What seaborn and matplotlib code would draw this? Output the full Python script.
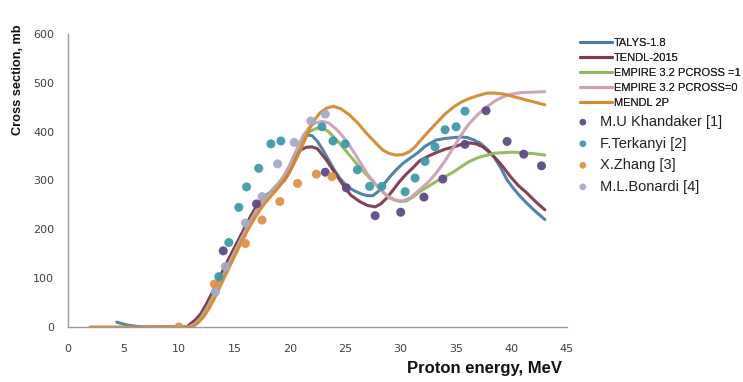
import matplotlib
matplotlib.use("Agg")
import matplotlib.pyplot as plt
import seaborn as sns
import pandas as pd

# ---------------- data ----------------
talys_e = [4.4, 5.0, 5.6, 6.3, 7.0, 10.8, 11.5, 12.0, 12.5, 13.0, 13.5, 14.0, 14.5, 15.0, 15.5, 16.0, 16.5,
           17.0, 17.5, 18.0, 18.5, 19.0, 19.5, 20.0, 20.5, 21.0, 21.5, 22.0, 22.5, 23.0, 23.5, 24.0, 24.5,
           25.0, 25.5, 26.0, 26.5, 27.0, 27.5, 28.0, 28.5, 29.0, 29.6, 30.2, 30.8, 31.5, 32.2, 33.2, 34.0,
           34.8, 35.5, 36.0, 36.6, 37.2, 37.8, 38.4, 39.0, 39.6, 40.2, 40.8, 41.4, 42.0, 42.5, 43.0]
talys_s = [10, 6, 3, 1, 0, 0, 12, 25, 45, 68, 90, 115, 138, 160, 182, 205, 228,
           248, 262, 272, 280, 290, 302, 322, 350, 380, 393, 392, 380, 362, 342, 322, 305,
           292, 283, 277, 272, 269, 269, 278, 293, 307, 322, 335, 345, 356, 370, 383, 386,
           388, 389, 388, 383, 376, 364, 349, 327, 301, 283, 267, 253, 240, 230, 220]

tendl_e = [8.0, 10.7, 11.5, 12.0, 12.5, 13.0, 13.5, 14.0, 14.5, 15.0, 15.5, 16.0, 16.5, 17.0, 17.5, 18.0,
           18.5, 19.0, 19.5, 20.0, 20.5, 21.0, 21.5, 22.0, 22.5, 23.3, 24.0, 24.8, 25.5, 26.3, 27.0, 27.7,
           28.2, 28.7, 29.3, 29.9, 30.5, 31.1, 31.7, 32.5, 33.2, 34.0, 34.8, 35.5, 36.2, 36.8, 37.4, 38.0,
           38.7, 39.3, 39.9, 40.6, 41.4, 42.2, 43.0]
tendl_s = [0, 0, 15, 28, 48, 70, 93, 117, 140, 162, 184, 206, 227, 246, 260, 270,
           280, 290, 300, 318, 350, 363, 368, 369, 365, 342, 318, 291, 270, 257, 249, 246,
           252, 263, 280, 298, 313, 326, 340, 350, 357, 364, 369, 374, 377, 375, 369, 358,
           342, 326, 308, 290, 274, 256, 240]

emp1_e = [8.0, 10.9, 11.5, 12.0, 12.5, 13.0, 13.5, 14.0, 14.5, 15.0, 15.5, 16.0, 16.5, 17.0, 17.5, 18.0,
          18.5, 19.0, 19.5, 20.0, 20.6, 21.2, 21.7, 22.3, 22.9, 23.5, 24.0, 24.5, 25.2, 26.0, 26.8, 27.5,
          28.1, 28.7, 29.3, 29.9, 30.5, 31.1, 31.7, 32.5, 33.2, 34.0, 34.8, 35.5, 36.2, 37.0, 37.8, 38.5,
          39.3, 40.0, 40.8, 42.0, 43.0]
emp1_s = [0, 0, 8, 20, 38, 60, 83, 107, 130, 153, 176, 198, 220, 240, 257, 270,
          283, 295, 310, 330, 360, 386, 399, 406, 408, 400, 388, 376, 357, 335, 315, 298,
          283, 270, 262, 257, 258, 266, 277, 288, 298, 308, 318, 329, 339, 347, 352, 356,
          357, 358, 357, 355, 352]

emp0_e = [8.0, 10.9, 11.5, 12.0, 12.5, 13.0, 13.5, 14.0, 14.5, 15.0, 15.5, 16.0, 16.5, 17.0, 17.5, 18.0,
          18.5, 19.0, 19.5, 20.0, 20.6, 21.2, 21.8, 22.3, 22.9, 23.5, 24.2, 24.8, 25.5, 26.3, 27.0, 27.8,
          28.4, 29.0, 29.6, 30.2, 30.9, 31.7, 32.5, 33.2, 34.0, 34.8, 35.5, 36.2, 37.0, 37.8, 38.5, 39.3,
          40.0, 40.8, 42.0, 43.0]
emp0_s = [0, 0, 6, 17, 34, 56, 80, 104, 128, 151, 174, 196, 218, 238, 255, 268,
          281, 294, 310, 332, 362, 392, 410, 418, 421, 418, 405, 390, 368, 339, 313, 291,
          276, 264, 259, 258, 265, 281, 297, 315, 340, 369, 395, 417, 436, 451, 463, 472,
          477, 480, 481, 482]

mendl_e = [2.0, 11.2, 11.7, 12.2, 12.7, 13.2, 13.7, 14.2, 14.7, 15.2, 15.7, 16.2, 16.7, 17.2, 17.7, 18.2,
           18.7, 19.2, 19.6, 20.0, 20.5, 20.9, 21.4, 21.8, 22.3, 22.7, 23.3, 23.9, 24.6, 25.4, 26.2, 26.9,
           27.7, 28.4, 29.0, 29.6, 30.2, 30.8, 31.3, 31.7, 32.5, 33.2, 34.0, 34.8, 35.5, 36.2, 37.0, 37.8,
           38.5, 39.3, 40.0, 40.8, 42.0, 43.0]
mendl_s = [0, 0, 8, 20, 37, 58, 82, 106, 130, 153, 176, 198, 218, 236, 252, 265,
           278, 292, 305, 318, 340, 359, 385, 407, 426, 438, 448, 452, 447, 434, 416, 397,
           378, 362, 355, 352, 353, 359, 369, 380, 400, 417, 436, 451, 461, 468, 474, 479,
           479, 477, 473, 468, 461, 455]

khandaker_e = [14.0, 17.0, 23.2, 25.1, 27.7, 30.0, 32.1, 33.8, 35.8, 37.7, 39.6, 41.1, 42.7]
khandaker_s = [156, 252, 317, 285, 228, 235, 266, 303, 374, 443, 380, 354, 330]

tarkenyi_e = [13.6, 14.5, 15.4, 16.1, 17.2, 18.3, 19.2, 22.9, 23.9, 25.0, 26.1, 27.2, 28.3, 30.4, 31.3,
              32.2, 33.1, 34.0, 35.0, 35.8]
tarkenyi_s = [103, 173, 245, 287, 325, 375, 381, 410, 381, 375, 322, 288, 288, 277, 305,
              339, 369, 404, 410, 442]

zhang_e = [10.0, 13.2, 16.0, 17.5, 19.1, 20.7, 22.4, 23.8]
zhang_s = [0, 88, 171, 219, 257, 294, 313, 308]

bonardi_e = [13.3, 14.2, 16.0, 17.5, 18.9, 20.4, 21.9, 23.2]
bonardi_s = [72, 124, 213, 267, 334, 378, 422, 436]

x_ticks = [0, 5, 10, 15, 20, 25, 30, 35, 40, 45]
y_ticks = [0, 100, 200, 300, 400, 500, 600]

line_series = [
    ("TALYS-1.8", talys_e, talys_s, "#4a7ca3"),
    ("TENDL-2015", tendl_e, tendl_s, "#7e3a4c"),
    ("EMPIRE 3.2 PCROSS =1", emp1_e, emp1_s, "#94b85a"),
    ("EMPIRE 3.2 PCROSS=0", emp0_e, emp0_s, "#c9a2b6"),
    ("MENDL 2P", mendl_e, mendl_s, "#d6892f"),
]
point_series = [
    ("M.U Khandaker [1]", khandaker_e, khandaker_s, "#5f4b85"),
    ("F.Terkanyi [2]", tarkenyi_e, tarkenyi_s, "#3f9aa8"),
    ("X.Zhang [3]", zhang_e, zhang_s, "#dc9548"),
    ("M.L.Bonardi [4]", bonardi_e, bonardi_s, "#a4acc8"),
]

# ---------------- figure ----------------
sns.set_style("white")
plt.rcParams["font.family"] = ["DejaVu Sans"]

fig = plt.figure(figsize=(7.43, 3.82), dpi=100)
ax = fig.add_axes([68 / 743, 1 - 327 / 382, (567 - 68) / 743, (327 - 34) / 382])

for name, e, s, c in line_series:
    df = pd.DataFrame({"E": e, "S": s})
    sns.lineplot(data=df, x="E", y="S", ax=ax, color=c, linewidth=2.2, sort=False,
                 estimator=None, label=name, alpha=0.95)
for name, e, s, c in point_series:
    df = pd.DataFrame({"E": e, "S": s})
    sns.scatterplot(data=df, x="E", y="S", ax=ax, color=c, s=42, edgecolor="none",
                    label=name, alpha=0.95, zorder=5)

handles, labels = ax.get_legend_handles_labels()
if ax.get_legend() is not None:
    ax.get_legend().remove()

ax.set_xlim(0, 45)
ax.set_ylim(0, 600)
ax.set_xticks(x_ticks)
ax.set_yticks(y_ticks)
ax.set_xticklabels([str(v) for v in x_ticks])
ax.set_yticklabels([str(v) for v in y_ticks])
for side in ["top", "right"]:
    ax.spines[side].set_visible(False)
for side in ["left", "bottom"]:
    ax.spines[side].set_color("#9a9a9a")
    ax.spines[side].set_linewidth(1.0)
ax.tick_params(axis="both", which="major", direction="out", length=4, width=1,
               color="#9a9a9a", labelsize=8, labelcolor="#404040")
ax.tick_params(axis="x", pad=8)
ax.tick_params(axis="y", pad=6)
ax.set_xlabel("")
ax.set_ylabel("")

fig.text(18 / 743, 1 - 80 / 382, "Cross section, mb", rotation=90, ha="center", va="center",
         fontsize=9.2, fontweight="bold", family=["Liberation Sans", "DejaVu Sans"], color="#111111")
fig.text(562 / 743, 1 - 368 / 382, "Proton energy, MeV", ha="right", va="center",
         fontsize=12, fontweight="bold", family=["Liberation Sans", "DejaVu Sans"], color="#111111")

n_lines = len(line_series)
leg1 = fig.legend(handles[:n_lines], labels[:n_lines], loc="upper left",
                  bbox_to_anchor=(580 / 743, 1 - 38 / 382), frameon=False, borderpad=0,
                  borderaxespad=0, handlelength=2.9, handletextpad=0.15, labelspacing=0.45,
                  prop={"family": "Liberation Sans", "size": 8})
for t in leg1.get_texts():
    t.set_color("#222222")
fig.add_artist(leg1)
leg2 = fig.legend(handles[n_lines:], labels[n_lines:], loc="upper left",
                  bbox_to_anchor=(577 / 743, 1 - 115 / 382), frameon=False, borderpad=0,
                  borderaxespad=0, handlelength=0.8, handletextpad=0.8, labelspacing=0.52,
                  markerscale=0.75, prop={"family": "Liberation Sans", "size": 10.5})
for t in leg2.get_texts():
    t.set_color("#222222")

fig.savefig("out.png", dpi=100)
